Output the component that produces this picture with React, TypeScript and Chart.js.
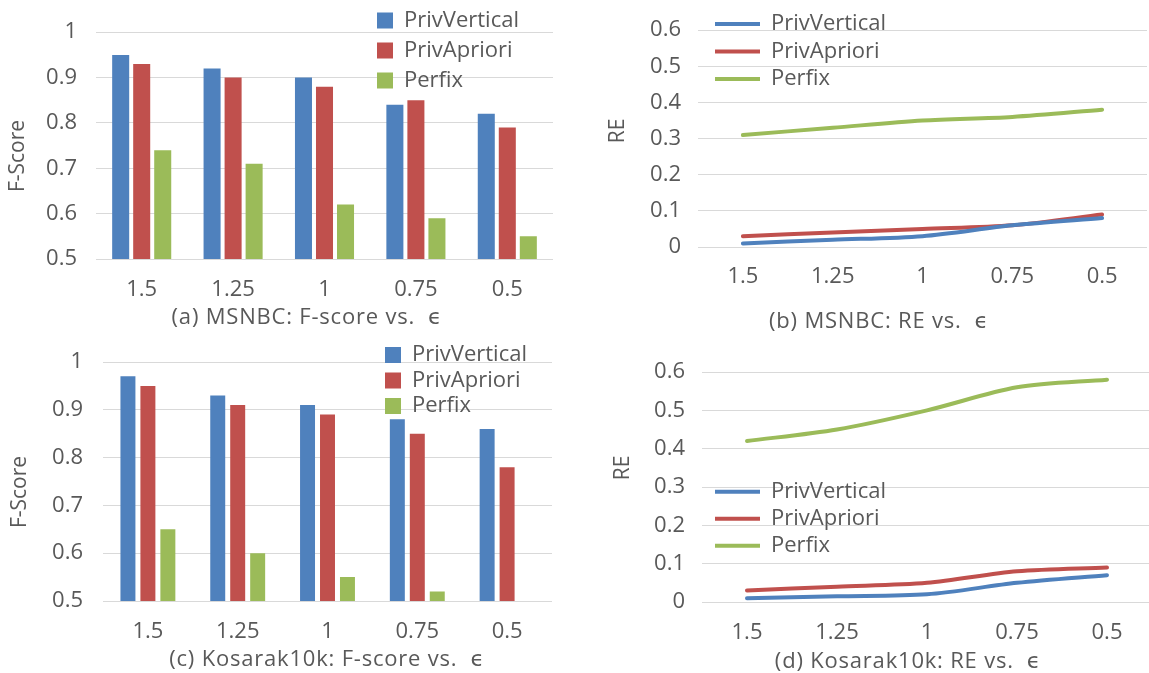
import React, { useEffect, useRef } from 'react';
import { Chart, registerables } from 'chart.js';

Chart.register(...registerables);

// ---------- data ----------
const EPSILON = ['1.5', '1.25', '1', '0.75', '0.5'];
const SERIES_NAMES = ['PrivVertical', 'PrivApriori', 'Perfix'];

const MSNBC_F_PRIVVERTICAL = [0.95, 0.92, 0.9, 0.84, 0.82];
const MSNBC_F_PRIVAPRIORI = [0.93, 0.9, 0.88, 0.85, 0.79];
const MSNBC_F_PERFIX = [0.74, 0.71, 0.62, 0.59, 0.55];

const MSNBC_RE_PRIVVERTICAL = [0.01, 0.02, 0.03, 0.06, 0.08];
const MSNBC_RE_PRIVAPRIORI = [0.03, 0.04, 0.05, 0.06, 0.09];
const MSNBC_RE_PERFIX = [0.31, 0.33, 0.35, 0.36, 0.38];

const KOS_F_PRIVVERTICAL = [0.97, 0.93, 0.91, 0.88, 0.86];
const KOS_F_PRIVAPRIORI = [0.95, 0.91, 0.89, 0.85, 0.78];
const KOS_F_PERFIX = [0.65, 0.6, 0.55, 0.52, 0.5];

const KOS_RE_PRIVVERTICAL = [0.01, 0.015, 0.02, 0.05, 0.07];
const KOS_RE_PRIVAPRIORI = [0.03, 0.04, 0.05, 0.08, 0.09];
const KOS_RE_PERFIX = [0.42, 0.45, 0.5, 0.56, 0.58];

const CAPTIONS = [
  '(a) MSNBC: F-score vs.  \u03F5',
  '(b) MSNBC: RE vs.  \u03F5',
  '(c) Kosarak10k: F-score vs.  \u03F5',
  '(d) Kosarak10k: RE vs.  \u03F5',
];
const Y_TITLES = ['F-Score', 'RE', 'F-Score', 'RE'];

// ---------- style ----------
const COLORS = ['#4f81bd', '#c0504d', '#9bbb59'];
const FONT = "'Open Sans', 'DejaVu Sans', sans-serif";
const TEXT = '#595959';
const GRID = '#d9d9d9';
const CW = 1160;
const CH = 673;
const X_AXIS_H = 40;

type Panel = {
  kind: 'bar' | 'line';
  series: number[][];
  yMin: number;
  yMax: number;
  area: { l: number; t: number; r: number; b: number };
  tickPad: number;
  xTickPad: number;
  caption: string;
  capX: number;
  capY: number;
  yTitle: string;
  yTitleX: number;
  yTitleY: number;
  legX: number;
  legY: number;
  legPad: number;
  catPct?: number;
  barPct?: number;
};

const PANELS: Panel[] = [
  {
    kind: 'bar',
    series: [MSNBC_F_PRIVVERTICAL, MSNBC_F_PRIVAPRIORI, MSNBC_F_PERFIX],
    yMin: 0.5, yMax: 1,
    area: { l: 96, t: 21, r: 553, b: 259 },
    tickPad: 19, xTickPad: 18,
    caption: CAPTIONS[0], capX: 307, capY: 318,
    yTitle: Y_TITLES[0], yTitleX: 18, yTitleY: 156,
    legX: 377, legY: 9.5, legPad: 8,
    catPct: 0.69, barPct: 0.81,
  },
  {
    kind: 'line',
    series: [MSNBC_RE_PRIVVERTICAL, MSNBC_RE_PRIVAPRIORI, MSNBC_RE_PERFIX],
    yMin: 0, yMax: 0.6,
    area: { l: 698, t: 26, r: 1147, b: 247 },
    tickPad: 17, xTickPad: 17,
    caption: CAPTIONS[1], capX: 879, capY: 322,
    yTitle: Y_TITLES[1], yTitleX: 618, yTitleY: 131,
    legX: 715, legY: 13, legPad: 5.5,
  },
  {
    kind: 'bar',
    series: [KOS_F_PRIVVERTICAL, KOS_F_PRIVAPRIORI, KOS_F_PERFIX],
    yMin: 0.5, yMax: 1,
    area: { l: 103, t: 362, r: 552, b: 601 },
    tickPad: 20, xTickPad: 18,
    caption: CAPTIONS[2], capX: 327, capY: 660,
    yTitle: Y_TITLES[2], yTitleX: 20, yTitleY: 492,
    legX: 385, legY: 344, legPad: 3.5,
    catPct: 0.667, barPct: 0.75,
  },
  {
    kind: 'line',
    series: [KOS_RE_PRIVVERTICAL, KOS_RE_PRIVAPRIORI, KOS_RE_PERFIX],
    yMin: 0, yMax: 0.6,
    area: { l: 702, t: 372, r: 1152, b: 602 },
    tickPad: 17, xTickPad: 18,
    caption: CAPTIONS[3], capX: 908, capY: 662,
    yTitle: Y_TITLES[3], yTitleX: 623, yTitleY: 468,
    legX: 715, legY: 480.7, legPad: 5,
  },
];

// ---------- plugins ----------
const panelText = {
  id: 'panelText',
  afterDraw(chart: any, _args: any, opts: any) {
    const ctx = chart.ctx;
    ctx.save();
    ctx.fillStyle = TEXT;
    ctx.textAlign = 'center';
    ctx.textBaseline = 'middle';
    ctx.font = `22px ${FONT}`;
    try { (ctx as any).letterSpacing = '0.8px'; } catch (e) { /* ignore */ }
    ctx.fillText(opts.caption, opts.capX, opts.capY);
    try { (ctx as any).letterSpacing = '0px'; } catch (e) { /* ignore */ }
    ctx.translate(opts.yTitleX, opts.yTitleY);
    ctx.rotate(-Math.PI / 2);
    ctx.font = `21px ${FONT}`;
    ctx.fillText(opts.yTitle, 0, 0);
    ctx.restore();
  },
};

const legendMover = {
  id: 'legendMover',
  afterLayout(chart: any, _args: any, opts: any) {
    const lg = chart.legend;
    if (!lg) return;
    const pad = opts.pad;
    lg.left = opts.x - pad;
    lg.top = opts.y - pad;
    lg.right = lg.left + 500;
    lg.bottom = lg.top + 300;
    lg.width = 500;
    lg.height = 300;
  },
};

const fmt = (v: number | string) => String(Math.round(Number(v) * 10) / 10);

function makeConfig(p: Panel): any {
  const isBar = p.kind === 'bar';
  const tickFont = { family: FONT, size: 22 };
  return {
    type: p.kind,
    data: {
      labels: EPSILON,
      datasets: SERIES_NAMES.map((name, i) => ({
        label: name,
        data: p.series[i],
        backgroundColor: COLORS[i],
        borderColor: COLORS[i],
        ...(isBar
          ? { borderWidth: 0, categoryPercentage: p.catPct, barPercentage: p.barPct }
          : {
              borderWidth: 4,
              pointRadius: 0,
              pointHoverRadius: 0,
              tension: 0.3,
              borderCapStyle: 'round',
              borderJoinStyle: 'round',
              fill: false,
            }),
      })),
    },
    options: {
      responsive: false,
      animation: false,
      devicePixelRatio: 1,
      layout: {
        padding: {
          left: 0,
          top: p.area.t,
          right: CW - p.area.r,
          bottom: CH - p.area.b - X_AXIS_H,
        },
      },
      scales: {
        x: {
          offset: true,
          grid: { display: false, drawTicks: false },
          border: { display: false },
          ticks: {
            color: TEXT,
            font: tickFont,
            padding: p.xTickPad,
            maxRotation: 0,
            autoSkip: false,
          },
          afterFit: (s: any) => { s.height = X_AXIS_H; },
        },
        y: {
          min: p.yMin,
          max: p.yMax,
          grid: { color: GRID, lineWidth: 1, drawTicks: false },
          border: { display: false },
          ticks: {
            stepSize: 0.1,
            color: TEXT,
            font: tickFont,
            padding: p.tickPad,
            callback: (v: number) => fmt(v),
          },
          afterFit: (s: any) => { s.width = p.area.l; },
        },
      },
      plugins: {
        legend: {
          position: 'chartArea',
          align: 'start',
          labels: isBar
            ? {
                color: TEXT,
                font: { family: FONT, size: 22 },
                boxWidth: 16,
                boxHeight: 16,
                padding: p.legPad,
              }
            : {
                color: TEXT,
                font: { family: FONT, size: 22 },
                usePointStyle: true,
                pointStyle: 'line',
                pointStyleWidth: 45,
                padding: p.legPad,
              },
        },
        tooltip: { enabled: false },
        panelText: {
          caption: p.caption,
          capX: p.capX,
          capY: p.capY,
          yTitle: p.yTitle,
          yTitleX: p.yTitleX,
          yTitleY: p.yTitleY,
        },
        legendMover: { x: p.legX, y: p.legY, pad: p.legPad },
      },
    },
    plugins: [panelText, legendMover],
  };
}

function PanelChart({ panel }: { panel: Panel }) {
  const ref = useRef<HTMLCanvasElement>(null);
  useEffect(() => {
    if (!ref.current) return;
    const chart = new Chart(ref.current, makeConfig(panel));
    return () => chart.destroy();
  }, [panel]);
  return (
    <canvas
      ref={ref}
      width={CW}
      height={CH}
      style={{ position: 'absolute', left: 0, top: 0, width: CW, height: CH }}
    />
  );
}

export default function App() {
  useEffect(() => {
    document.body.style.margin = '0';
    document.body.style.overflow = 'hidden';
  }, []);
  return (
    <div
      style={{
        position: 'relative',
        width: 1149,
        height: 673,
        overflow: 'hidden',
        background: '#ffffff',
      }}
    >
      {PANELS.map((p, i) => (
        <PanelChart key={i} panel={p} />
      ))}
    </div>
  );
}
